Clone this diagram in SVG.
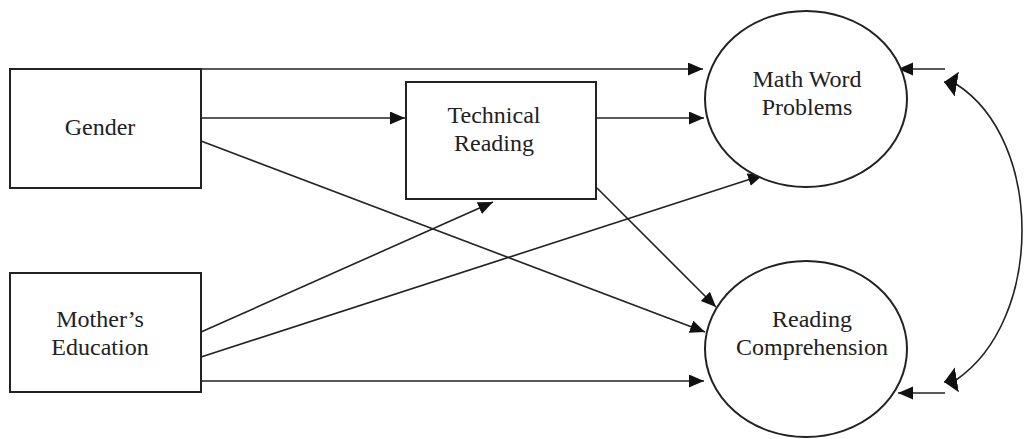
<svg xmlns="http://www.w3.org/2000/svg" width="1027" height="439" viewBox="0 0 1027 439">
<style>
.box{fill:#fff;stroke:#222;stroke-width:2}
.ell{fill:#fff;stroke:#222;stroke-width:2}
.lbl{font-family:"Liberation Serif","Times New Roman",serif;font-size:24px;fill:#222;text-anchor:middle}
.edge{fill:none;stroke:#222;stroke-width:1.6}
</style>
<defs>
<marker id="ah" markerUnits="userSpaceOnUse" markerWidth="16" markerHeight="14" refX="15" refY="6.5" orient="auto">
<path d="M0,0 L15,6.5 L0,13 Z" fill="#111"/>
</marker>
<marker id="ahc" markerUnits="userSpaceOnUse" markerWidth="14" markerHeight="26" refX="13" refY="12.5" orient="auto-start-reverse">
<path d="M0,0 L13,12.5 L0,25 Z" fill="#111"/>
</marker>
</defs>
<g id="connectors">
<line class="edge" x1="201" y1="69" x2="703" y2="69" marker-end="url(#ah)"/>
<line class="edge" x1="201" y1="118" x2="405" y2="118" marker-end="url(#ah)"/>
<line class="edge" x1="596" y1="118" x2="704" y2="118" marker-end="url(#ah)"/>
<line class="edge" x1="201" y1="141" x2="705" y2="332" marker-end="url(#ah)"/>
<line class="edge" x1="597" y1="188" x2="716" y2="307" marker-end="url(#ah)"/>
<line class="edge" x1="201" y1="332" x2="493" y2="202" marker-end="url(#ah)"/>
<line class="edge" x1="201" y1="357" x2="763" y2="175" marker-end="url(#ah)"/>
<line class="edge" x1="201" y1="381" x2="704" y2="381" marker-end="url(#ah)"/>
<line class="edge" x1="945" y1="69" x2="898" y2="69" marker-end="url(#ah)"/>
<line class="edge" x1="945" y1="393" x2="898" y2="393" marker-end="url(#ah)"/>
<path class="edge" d="M944,82 L956,84 C1044,140 1044,320 956,380 L944,382" marker-start="url(#ahc)" marker-end="url(#ahc)"/>
</g>
<g id="gender">
<rect class="box" x="10" y="69" width="191" height="119"/>
<text class="lbl" x="100" y="135">Gender</text>
</g>
<g id="mothers-education">
<rect class="box" x="10" y="273" width="191" height="119"/>
<text class="lbl" x="100" y="327">Mother’s</text>
<text class="lbl" x="100" y="355">Education</text>
</g>
<g id="technical-reading">
<rect class="box" x="406" y="82" width="190" height="117"/>
<text class="lbl" x="494" y="123">Technical</text>
<text class="lbl" x="494" y="151">Reading</text>
</g>
<g id="math-word-problems">
<ellipse class="ell" cx="806" cy="99" rx="101" ry="88"/>
<text class="lbl" x="807" y="87">Math Word</text>
<text class="lbl" x="807" y="115">Problems</text>
</g>
<g id="reading-comprehension">
<ellipse class="ell" cx="806" cy="349" rx="101" ry="88"/>
<text class="lbl" x="812" y="327">Reading</text>
<text class="lbl" x="812" y="355">Comprehension</text>
</g>
</svg>
